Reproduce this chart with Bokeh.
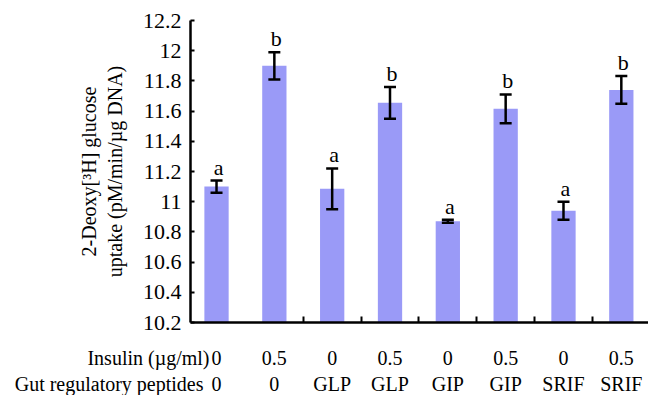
from bokeh.plotting import figure
from bokeh.layouts import column
from bokeh.models import ColumnDataSource, Whisker, TeeHead, FixedTicker, Range1d
from bokeh.core.properties import value
from bokeh.embed import file_html
from bokeh.resources import INLINE

# ---- data ----
insulin = ["0", "0.5", "0", "0.5", "0", "0.5", "0", "0.5"]
peptides = ["0", "0", "GLP", "GLP", "GIP", "GIP", "SRIF", "SRIF"]
uptake = [11.10, 11.90, 11.085, 11.655, 10.87, 11.615, 10.94, 11.74]
err = [0.04, 0.09, 0.135, 0.105, 0.01, 0.095, 0.06, 0.092]
letters = ["a", "b", "a", "b", "a", "b", "a", "b"]
yticks = [10.2, 10.4, 10.6, 10.8, 11.0, 11.2, 11.4, 11.6, 11.8, 12.0, 12.2]
ytick_labels = ["10.2", "10.4", "10.6", "10.8", "11", "11.2", "11.4", "11.6", "11.8", "12", "12.2"]
row_titles = ["Insulin (\u00b5g/ml)", "Gut regulatory peptides"]

FONT = "Liberation Serif"
BAR = "#9a9af7"

W = 648
LEFT = 190
X0, X1 = -0.45, 7.47

xs = list(range(len(uptake)))
src = ColumnDataSource(dict(
    x=xs, top=uptake,
    upper=[u + e for u, e in zip(uptake, err)],
    lower=[u - e for u, e in zip(uptake, err)],
    letter=letters,
))

p = figure(width=W, height=334,
           x_range=Range1d(X0, X1), y_range=Range1d(10.2, 12.2),
           output_backend="svg", toolbar_location=None,
           min_border_left=LEFT, min_border_right=0,
           min_border_top=20, min_border_bottom=12)
p.frame_align = False
p.outline_line_color = None
p.grid.grid_line_color = None

p.vbar(x="x", top="top", bottom=10.2, width=0.42, source=src,
       fill_color=BAR, line_color=None)

w = Whisker(base="x", upper="upper", lower="lower", source=src, level="overlay",
            line_color="black", line_width=2.5,
            upper_head=TeeHead(size=12, line_width=2.5, line_color="black"),
            lower_head=TeeHead(size=12, line_width=2.5, line_color="black"))
p.add_layout(w)

p.text(x="x", y="upper", text="letter", source=src, x_offset=2, y_offset=-1,
       text_align="center", text_baseline="bottom",
       text_font=value(FONT), text_font_size="22px", text_color="black")

# y axis
ya = p.yaxis[0]
ya.ticker = FixedTicker(ticks=yticks)
ya.major_label_overrides = {t: l for t, l in zip(yticks, ytick_labels)}
ya.major_label_text_font = FONT
ya.major_label_text_font_size = "22px"
ya.major_label_text_color = "black"
ya.major_label_standoff = 9
ya.major_tick_in = 4
ya.major_tick_out = 0
ya.major_tick_line_width = 2
ya.minor_tick_line_color = None
ya.axis_line_width = 2.5
ya.axis_line_color = "black"
ya.axis_label = "2-Deoxy[\u00b3H] glucose\nuptake (pM/min/\u00b5g DNA)"
ya.axis_label_text_font = FONT
ya.axis_label_text_font_size = "20px"
ya.axis_label_text_font_style = "normal"
ya.axis_label_text_color = "black"
ya.axis_label_standoff = 14

# x axis
xa = p.xaxis[0]
xa.ticker = FixedTicker(ticks=[i + 0.5 for i in xs[1:-1]])
xa.major_label_text_font_size = "1px"
xa.major_label_text_alpha = 0
xa.major_tick_in = 6
xa.major_tick_out = 0
xa.major_tick_line_width = 2
xa.minor_tick_line_color = None
xa.axis_line_width = 2.5
xa.axis_line_color = "black"

# ---- condition table under the chart, on the same x scale ----
scale = (W - LEFT) / (X1 - X0)
q = figure(width=W, height=61,
           x_range=Range1d(X0 - LEFT / scale, X1), y_range=Range1d(0, 1),
           output_backend="svg", toolbar_location=None,
           min_border=0, min_border_left=0, min_border_right=0,
           min_border_top=0, min_border_bottom=0)
q.frame_align = False
q.axis.visible = False
q.grid.grid_line_color = None
q.outline_line_color = None

row_y = [0.62, 0.195]
tbl = ColumnDataSource(dict(
    x=xs + xs,
    y=[row_y[0]] * len(xs) + [row_y[1]] * len(xs),
    t=insulin + peptides,
))
q.text(x="x", y="y", text="t", source=tbl, text_align="center",
       text_baseline="middle", text_font=value(FONT),
       text_font_size="20px", text_color="black")
hdr = ColumnDataSource(dict(x=[0, 0], y=row_y, t=row_titles, off=[-7, -13]))
q.text(x="x", y="y", text="t", source=hdr, x_offset="off", text_align="right",
       text_baseline="middle", text_font=value(FONT),
       text_font_size="20px", text_color="black")

layout = column(p, q, spacing=0)
open("out.html", "w").write(file_html(layout, INLINE))
